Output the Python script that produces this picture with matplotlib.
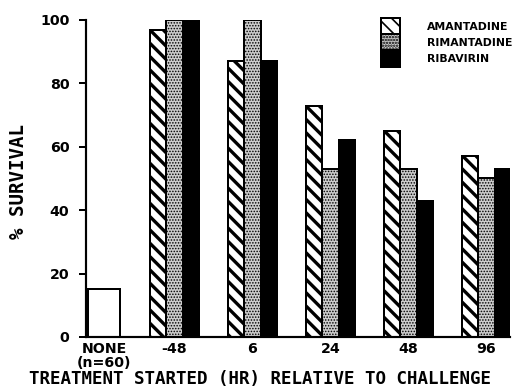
import numpy as np
import matplotlib
matplotlib.use('Agg')
from matplotlib import pyplot as plt

# data
groups = ['-48', '6', '24', '48', '96']
amantadine = [97, 87, 73, 65, 57]
rimantadine = [100, 100, 53, 53, 50]
ribavirin = [100, 87, 62, 43, 53]
none_value = 15
none_label = 'NONE\n(n=60)'
series_names = ['AMANTADINE', 'RIMANTADINE', 'RIBAVIRIN']
yticks = [0, 20, 40, 60, 80, 100]

if __name__ == "__main__":
    dpi = 120
    fig = plt.figure(figsize=(515 / dpi, 387 / dpi), dpi=dpi)
    ax = fig.add_axes([86 / 515, 1 - 337 / 387, 424 / 515, 317 / 387])

    x = np.arange(1, len(groups) + 1)
    w = 0.21
    none_x = 0.096

    ax.bar(none_x, none_value, width=0.41, facecolor='white', edgecolor='black', linewidth=1.2)

    with plt.rc_context({'hatch.linewidth': 2.0}):
        b1 = ax.bar(x - w, amantadine, width=w, facecolor='white', edgecolor='black',
                    linewidth=1.2, hatch='\\\\\\', label=series_names[0])
    with plt.rc_context({'hatch.linewidth': 0.6}):
        b2 = ax.bar(x, rimantadine, width=w, facecolor='#cccccc', edgecolor='black',
                    linewidth=1.2, hatch='.......', label=series_names[1])
    b3 = ax.bar(x + w, ribavirin, width=w, facecolor='black', edgecolor='black',
                linewidth=1.2, label=series_names[2])

    ax.set_xlim(-0.135, 5.301)
    ax.set_ylim(0, 100)
    ax.spines['top'].set_visible(False)
    ax.spines['right'].set_visible(False)
    ax.spines['left'].set_linewidth(1.3)
    ax.spines['bottom'].set_linewidth(1.3)

    ax.set_yticks(yticks)
    ax.set_yticklabels([str(t) for t in yticks], fontsize=8.5, fontweight='bold')
    ax.tick_params(axis='y', length=4, width=1.2, pad=6)
    ax.set_xticks([none_x] + list(x))
    ax.set_xticklabels([none_label] + groups, fontsize=8.5, fontweight='bold', linespacing=1.0)
    ax.tick_params(axis='x', length=0, pad=3)

    ax.set_xlabel('TREATMENT STARTED (HR) RELATIVE TO CHALLENGE', family='DejaVu Sans Mono',
                  fontsize=10.5, fontweight='bold')
    ax.xaxis.set_label_coords(0.41, -0.133, transform=ax.transAxes)
    ax.xaxis.label.set_verticalalignment('center')
    ax.set_ylabel('% SURVIVAL', family='DejaVu Sans Mono', fontsize=11.5,
                  fontweight='bold')
    ax.yaxis.set_label_coords(-0.160, 0.49)
    ax.yaxis.label.set_verticalalignment('center')

    ax.legend(handles=[b1, b2, b3], loc='upper left', bbox_to_anchor=(0.696, 1.005),
              frameon=False, borderpad=0, borderaxespad=0, labelspacing=0.0,
              handlelength=1.7, handleheight=1.9, handletextpad=2.5,
              prop={'size': 6.5, 'weight': 'bold'})

    fig.savefig('out.png', dpi=dpi)
